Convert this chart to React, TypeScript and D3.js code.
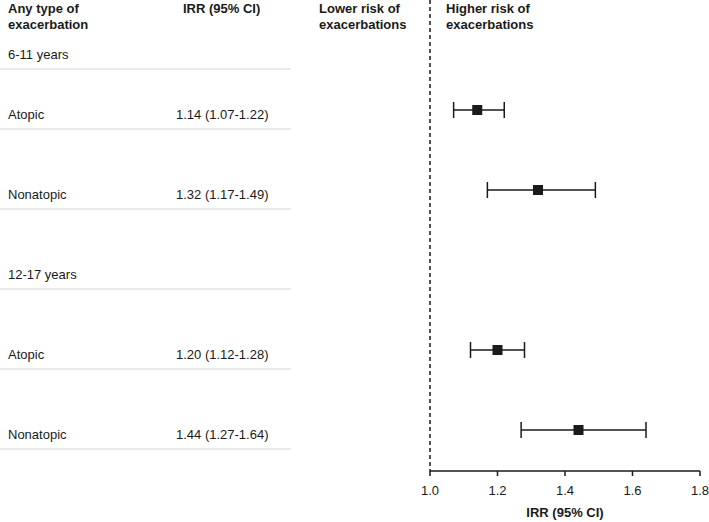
import * as d3 from "d3";

const rowLabels = ["6-11 years", "Atopic", "Nonatopic", "12-17 years", "Atopic", "Nonatopic"];
const irr: (number | null)[] = [null, 1.14, 1.32, null, 1.2, 1.44];
const lower: (number | null)[] = [null, 1.07, 1.17, null, 1.12, 1.27];
const upper: (number | null)[] = [null, 1.22, 1.49, null, 1.28, 1.64];
const xTicks = [1.0, 1.2, 1.4, 1.6, 1.8];

const W = 709;
const H = 522;
const FONT = "'Liberation Sans', Arial, sans-serif";
const INK = "#1a1a1a";
const RULE = "#d6d6d6";

export default function App() {
  // x scale for the forest plot
  const x = d3.scaleLinear().domain([1.0, 1.8]).range([430, 700]);
  // row separators: first row is shorter (sits under the header)
  const sep = d3.scaleLinear().domain([0, 1, 5]).range([69, 129, 449]);
  const axisY = 471;
  const fmt = d3.format(".2f");

  return (
    <svg
      width={W}
      height={H}
      style={{ position: "absolute", left: 0, top: 0, fontFamily: FONT }}
    >
      <rect width={W} height={H} fill="#fff" />

      {/* header */}
      <g fontWeight="bold" fontSize={13} fill={INK}>
        <text x={8} y={13}>Any type of</text>
        <text x={8} y={28.5}>exacerbation</text>
        <text x={183} y={13}>IRR (95% CI)</text>
        <text x={319} y={13}>Lower risk of</text>
        <text x={319} y={28.5}>exacerbations</text>
        <text x={446} y={13}>Higher risk of</text>
        <text x={446} y={28.5}>exacerbations</text>
      </g>

      {/* rows */}
      {rowLabels.map((label, i) => {
        const yText = sep(i) - 15;
        const v = irr[i];
        const lo = lower[i];
        const hi = upper[i];
        return (
          <g key={i}>
            <line x1={0} x2={291} y1={sep(i)} y2={sep(i)} stroke={RULE} strokeWidth={1.2} />
            <text x={8} y={yText} dy="0.35em" fontSize={13} fill={INK}>
              {label}
            </text>
            {v != null && lo != null && hi != null && (
              <>
                <text x={176} y={yText} dy="0.35em" fontSize={13} fill={INK}>
                  {`${fmt(v)} (${fmt(lo)}-${fmt(hi)})`}
                </text>
                <g stroke={INK} strokeWidth={1.5}>
                  <line x1={x(lo)} x2={x(hi)} y1={sep(i) - 19} y2={sep(i) - 19} />
                  <line x1={x(lo)} x2={x(lo)} y1={sep(i) - 27} y2={sep(i) - 11} />
                  <line x1={x(hi)} x2={x(hi)} y1={sep(i) - 27} y2={sep(i) - 11} />
                </g>
                <rect x={x(v) - 5} y={sep(i) - 24} width={10} height={10} fill={INK} />
              </>
            )}
          </g>
        );
      })}

      {/* reference line at 1.0 */}
      <line
        x1={x(1)}
        x2={x(1)}
        y1={0}
        y2={axisY}
        stroke={INK}
        strokeWidth={1.5}
        strokeDasharray="4 3"
      />

      {/* x axis */}
      <line x1={x(1.0)} x2={x(1.8)} y1={axisY} y2={axisY} stroke={INK} strokeWidth={1.5} />
      {xTicks.map((t) => (
        <g key={t}>
          <line x1={x(t)} x2={x(t)} y1={axisY} y2={axisY + 5} stroke={INK} strokeWidth={1.5} />
          <text x={x(t)} y={axisY + 19} dy="0.35em" textAnchor="middle" fontSize={13} fill={INK}>
            {d3.format(".1f")(t)}
          </text>
        </g>
      ))}
      <text
        x={(x(1.0) + x(1.8)) / 2}
        y={axisY + 41}
        dy="0.35em"
        textAnchor="middle"
        fontSize={13}
        fontWeight="bold"
        fill={INK}
      >
        IRR (95% CI)
      </text>
    </svg>
  );
}
